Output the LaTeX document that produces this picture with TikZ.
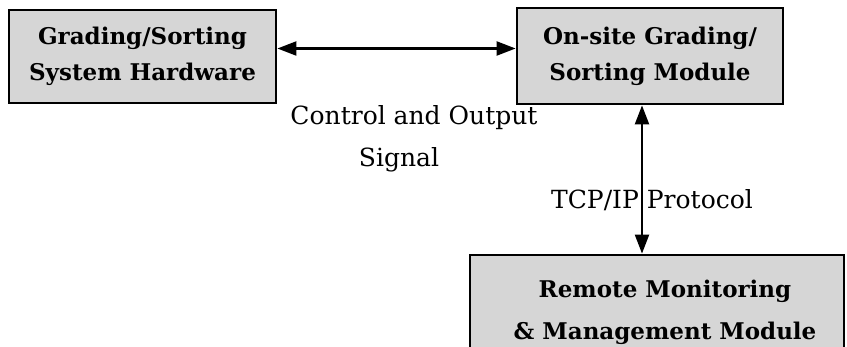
\documentclass[tikz,border=0pt]{standalone}
\usepackage{fontspec}
\setmainfont{DejaVu Serif}
\usetikzlibrary{arrows.meta, positioning}
\definecolor{boxGray}{HTML}{D6D6D6}

\begin{document}
\begin{tikzpicture}[x=1pt, y=-1pt,
    module/.style={draw, line width=2.8pt, fill=boxGray, align=center,
        font=\fontsize{23}{36}\selectfont\bfseries, inner sep=0pt},
    link/.style={{Triangle[length=19pt,width=14pt]}-{Triangle[length=19pt,width=14pt]},
        line width=2.2pt},
    lbl/.style={font=\fontsize{25}{42}\selectfont, align=center, inner sep=0pt}]

    \useasboundingbox (0,0) rectangle (847,347);
    \clip (0,0) rectangle (847,347);

    % the three modules
    \node[module, minimum width=267pt, minimum height=93pt] (hw) at (142.5,56.5)
        {Grading/Sorting\\System Hardware};
    \node[module, minimum width=266pt, minimum height=96pt] (onsite) at (650,56)
        {On-site Grading/\\Sorting Module};
    \node[module, minimum width=374pt, minimum height=115pt,
        font=\fontsize{23}{42}\selectfont\bfseries] (remote) at (657,312.5)
        {\hspace*{16pt}Remote Monitoring\\\hspace*{16pt}\& Management Module};

    % connections
    \draw[link] ([yshift=8pt]hw.east) -- ([yshift=8pt]hw.east -| onsite.west);
    \draw[link] ([xshift=-8pt]onsite.south) -- ([xshift=-8pt]onsite.south |- remote.north);

    \node[lbl] (signal) at (414,139) {Control and Output\\Signal\hspace*{30pt}};
    \node[lbl] (tcp) at (652,200) {TCP/IP\hspace{8pt}Protocol};
\end{tikzpicture}
\end{document}
